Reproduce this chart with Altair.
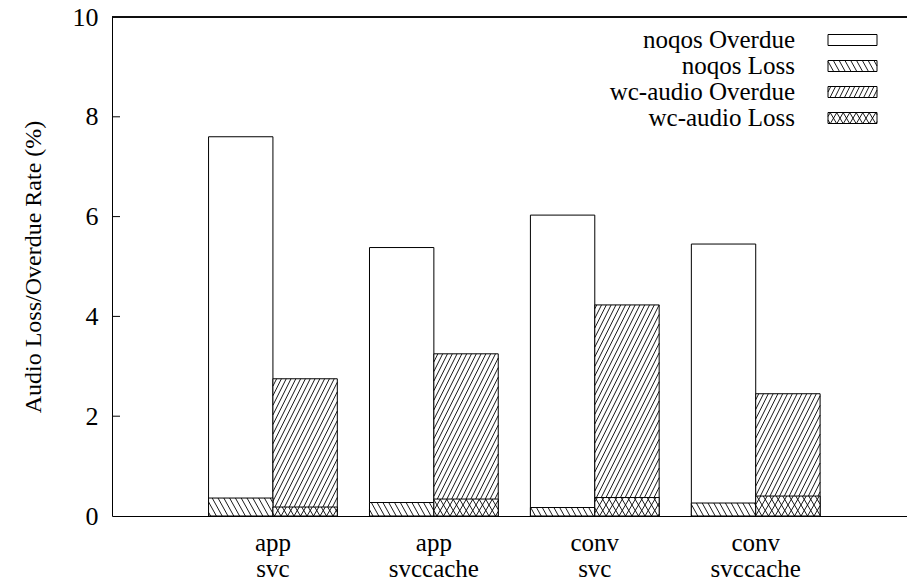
import altair as alt
import pandas as pd
import math

# ---------------- data ----------------
groups = ["app\nsvc", "app\nsvccache", "conv\nsvc", "conv\nsvccache"]
noqos_overdue = [7.6, 5.38, 6.03, 5.45]
noqos_loss = [0.36, 0.27, 0.17, 0.26]
wc_overdue = [2.75, 3.25, 4.23, 2.45]
wc_loss = [0.18, 0.34, 0.37, 0.40]
y_ticks = [0, 2, 4, 6, 8, 10]
legend_labels = ["noqos Overdue", "noqos Loss", "wc-audio Overdue", "wc-audio Loss"]
y_title = "Audio Loss/Overdue Rate (%)"

# ---------------- layout / style ----------------
FONT = "Liberation Serif"
FS = 26
FS_TEXT = 25
FS_TITLE = 24
W, H = 795, 499
XMAX = 4.94
YMAX = 10
PX = W / XMAX
PY = H / YMAX
BW = 0.4

STYLE = {
    "noqos Overdue": [],
    "noqos Loss": [(-1.8, 5.8)],
    "wc-audio Overdue": [(2.0, 4.8)],
    "wc-audio Loss": [(1.7, 6.5), (-1.7, 6.5)],
}


def hatch(x0, x1, y0, y1, slope, spacing):
    wp = (x1 - x0) * PX
    hp = (y1 - y0) * PY
    out = []
    if wp <= 0 or hp <= 0:
        return out
    d = hp / slope
    off = y0 * PY / slope - x0 * PX
    lo = min(0.0, -d) - spacing
    hi = wp + max(0.0, -d) + spacing
    kmin = math.floor((lo - off) / spacing)
    kmax = math.ceil((hi - off) / spacing)
    for k in range(kmin, kmax + 1):
        c = k * spacing + off
        if d > 0:
            ta, tb = (0 - c) / d, (wp - c) / d
        else:
            ta, tb = (wp - c) / d, (0 - c) / d
        ta = max(ta, 0.0)
        tb = min(tb, 1.0)
        if tb - ta < 1e-6:
            continue
        out.append({
            "hx": x0 + (c + ta * d) / PX, "hy": y0 + ta * hp / PY,
            "hx2": x0 + (c + tb * d) / PX, "hy2": y0 + tb * hp / PY,
        })
    return out


# bars
over_rows, loss_rows, hatch_rows = [], [], []
for i, g in enumerate(groups):
    pos = i + 1
    for s_over, s_loss, x0, x1, ov, lo in [
        ("noqos Overdue", "noqos Loss", pos - BW, pos, noqos_overdue[i], noqos_loss[i]),
        ("wc-audio Overdue", "wc-audio Loss", pos, pos + BW, wc_overdue[i], wc_loss[i]),
    ]:
        over_rows.append({"x0": x0, "x1": x1, "y0": 0, "y1": ov})
        loss_rows.append({"x0": x0, "x1": x1, "y0": 0, "y1": lo})
        for sl, sp in STYLE[s_over]:
            hatch_rows += hatch(x0, x1, lo, ov, sl, sp)
        for sl, sp in STYLE[s_loss]:
            hatch_rows += hatch(x0, x1, 0, lo, sl, sp)

# legend (pixel layout converted to data units)
leg_rows, leg_hatch = [], []
for i, lab in enumerate(legend_labels):
    cy = 23 + 26 * i
    bx0, bx1 = 716 / PX, 765 / PX
    by0, by1 = YMAX - (cy + 5.5) / PY, YMAX - (cy - 5.5) / PY
    leg_rows.append({"label": lab, "tx": 683 / PX, "ty": YMAX - cy / PY,
                     "x0": bx0, "x1": bx1, "y0": by0, "y1": by1})
    for sl, sp in STYLE[lab]:
        leg_hatch += hatch(bx0, bx1, by0, by1, sl, sp)

label_rows = []
for i, g in enumerate(groups):
    l1, l2 = g.split("\n")
    label_rows.append({"pos": i + 1, "l1": l1, "l2": l2})

over_df = pd.DataFrame(over_rows)
loss_df = pd.DataFrame(loss_rows)
hatch_df = pd.DataFrame(hatch_rows + leg_hatch)
leg_df = pd.DataFrame(leg_rows)
lab_df = pd.DataFrame(label_rows)
tick_df = pd.DataFrame({"t": y_ticks[1:-1]})

xs = alt.Scale(domain=[0, XMAX], nice=False, zero=False)
ys = alt.Scale(domain=[0, YMAX], nice=False, zero=False)
XAX = alt.Axis(labels=False, ticks=False, grid=False, domain=True,
               domainColor="black", domainWidth=1, title=None)
YAX = alt.Axis(values=y_ticks, ticks=False, grid=False, domain=True,
               domainColor="black", domainWidth=1,
               labelFont=FONT, labelFontSize=FS, labelColor="black",
               labelPadding=14, labelBound=False, labelFlush=False,
               labelOverlap=False,
               title=y_title, titleFont=FONT, titleFontSize=FS_TITLE,
               titleFontWeight="normal", titleColor="black",
               titleX=-79, titleY=H / 2, titleAngle=270,
               titleAlign="center", titleBaseline="middle")


def X(f):
    return alt.X(f + ":Q", scale=xs, axis=XAX)


def Y(f):
    return alt.Y(f + ":Q", scale=ys, axis=YAX)


over = alt.Chart(over_df).mark_rect(fill="white", stroke="black", strokeWidth=1).encode(
    x=X("x0"), x2="x1", y=Y("y0"), y2="y1")
loss = alt.Chart(loss_df).mark_rect(fill="white", stroke="black", strokeWidth=1).encode(
    x=X("x0"), x2="x1", y=Y("y0"), y2="y1")
legbox = alt.Chart(leg_df).mark_rect(fill="white", stroke="black", strokeWidth=1).encode(
    x=X("x0"), x2="x1", y=Y("y0"), y2="y1")
hatches = alt.Chart(hatch_df).mark_rule(color="black", strokeWidth=0.9).encode(
    x=X("hx"), x2="hx2", y=Y("hy"), y2="hy2")
legtext = alt.Chart(leg_df).mark_text(align="right", baseline="middle", font=FONT,
                                      fontSize=FS_TEXT, color="black").encode(
    x=X("tx"), y=Y("ty"), text="label:N")
xlab1 = alt.Chart(lab_df).mark_text(align="center", baseline="alphabetic", font=FONT,
                                    fontSize=FS_TEXT, color="black").encode(
    x=X("pos"), y=alt.value(H + 35), text="l1:N")
xlab2 = alt.Chart(lab_df).mark_text(align="center", baseline="alphabetic", font=FONT,
                                    fontSize=FS_TEXT, color="black").encode(
    x=X("pos"), y=alt.value(H + 61), text="l2:N")
ticks = alt.Chart(tick_df).mark_rule(color="black", strokeWidth=1).encode(
    y=Y("t"), x=alt.value(0), x2=alt.value(8))
top = alt.Chart(tick_df).mark_rule(color="black", strokeWidth=1).encode(
    y=alt.value(0), x=alt.value(0), x2=alt.value(W))

chart = alt.layer(over, loss, legbox, hatches, legtext, xlab1, xlab2, ticks, top).properties(
    width=W, height=H,
    autosize=alt.AutoSizeParams(type="none"),
    padding={"left": 112, "top": 17, "right": 0, "bottom": 66},
    background="white",
).configure_view(stroke="transparent")

chart.save("out.html", embed_options={"renderer": "svg", "actions": False})
